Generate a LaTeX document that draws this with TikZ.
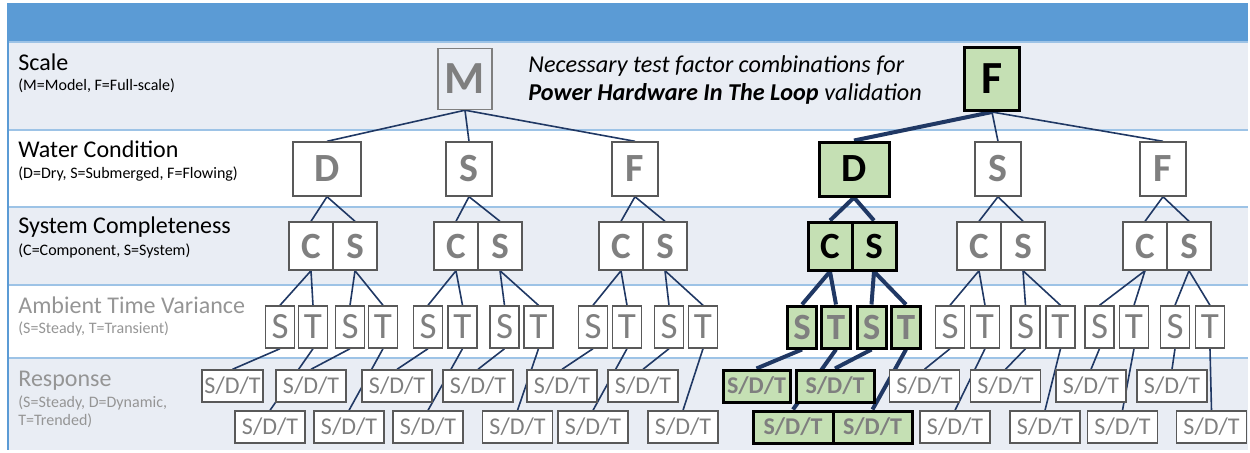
\documentclass[tikz,border=0pt]{standalone}
\usepackage{fontspec}
\setmainfont{Carlito}
\usepackage{tikz}

\definecolor{hdrblue}{HTML}{5B9BD5}
\definecolor{bandgray}{HTML}{E9EDF4}
\definecolor{sepblue}{HTML}{9DC3E6}
\definecolor{linkblue}{HTML}{203864}
\definecolor{selgreen}{HTML}{C5E0B4}
\definecolor{txtgray}{HTML}{7F7F7F}
\definecolor{lblgray}{HTML}{959595}
\definecolor{boxgray}{HTML}{595959}

\pgfdeclarelayer{bands}
\pgfdeclarelayer{links}
\pgfsetlayers{bands,links,main}

\begin{document}
\begin{tikzpicture}[x=0.5pt,y=-0.5pt,
  box/.style={draw=boxgray, fill=white, line width=0.7pt, inner sep=0pt, text=txtgray},
  scalebox/.style={box, minimum width=27pt, minimum height=30.5pt, font=\fontsize{23}{23}\selectfont\bfseries},
  waterbox/.style={box, minimum width=23pt, minimum height=27pt, font=\fontsize{20}{20}\selectfont\bfseries},
  halfbox/.style={box, minimum width=22pt, minimum height=24pt, font=\fontsize{18.5}{18.5}\selectfont\bfseries},
  ambbox/.style={box, minimum width=14.5pt, minimum height=21pt, font=\fontsize{18.5}{18.5}\selectfont},
  rspbox/.style={box, minimum width=35pt, minimum height=16pt, font=\fontsize{12}{12}\selectfont},
  chosen/.style={draw=black, fill=selgreen, line width=1.5pt, text=black},
  ambsel/.style={ambbox, chosen, text=txtgray, font=\fontsize{18.5}{18.5}\selectfont\bfseries},
  rspsel/.style={rspbox, chosen, text=txtgray, font=\fontsize{12}{12}\selectfont\bfseries},
  link/.style={draw=linkblue, line width=0.8pt},
  chosenlink/.style={draw=linkblue, line width=2pt},
  rowlabel/.style={anchor=base west, inner sep=0pt, font=\fontsize{12}{12}\selectfont},
  rownote/.style={anchor=base west, inner sep=0pt, font=\fontsize{8}{8}\selectfont},
  titletext/.style={anchor=base west, inner sep=0pt, font=\fontsize{12.1}{12.1}\selectfont\itshape}]
	\useasboundingbox (0,0) rectangle (1250,452);

	\begin{pgfonlayer}{bands}
	\fill[hdrblue] (8,3) rectangle (1248,42);
	\fill[bandgray] (8,42) rectangle (1248,130);
	\fill[bandgray] (8,207) rectangle (1248,285);
	\fill[bandgray] (8,358) rectangle (1248,450);
	\draw[sepblue, line width=1pt] (8,42) -- (1248,42) (8,130) -- (1248,130) (8,207) -- (1248,207) (8,285) -- (1248,285) (8,358) -- (1248,358);
	\draw[hdrblue, line width=1pt] (8,3) -- (8,450);
	\end{pgfonlayer}

	\node[rowlabel] (scale) at (18,70) {Scale};
	\node[rownote] (scalenote) at (18,90) {(M=Model, F=Full-scale)};
	\node[rowlabel] (water) at (18,157) {Water Condition};
	\node[rownote] (waternote) at (18,178) {(D=Dry, S=Submerged, F=Flowing)};
	\node[rowlabel] (system) at (18,233) {System Completeness};
	\node[rownote] (systemnote) at (18,255) {(C=Component, S=System)};
	\node[rowlabel, text=lblgray] (ambient) at (18,313) {Ambient Time Variance};
	\node[rownote, text=lblgray] (ambientnote) at (18,333) {(S=Steady, T=Transient)};
	\node[rowlabel, text=lblgray] (response) at (18,386) {Response};
	\node[rownote, text=lblgray] (responsenote) at (18,407) {(S=Steady, D=Dynamic,};
	\node[rownote, text=lblgray] (responsenote2) at (18,425) {T=Trended)};

	\node[titletext] (title1) at (528,72) {Necessary test factor combinations for};
	\node[titletext] (title2) at (528,100) {\textbf{Power Hardware In The Loop} validation};

	\node[scalebox, draw=txtgray, fill=none] (m) at (465,79) {M};
	\node[scalebox, chosen, minimum width=27.5pt, minimum height=31.5pt] (f) at (992,79) {F};

	\node[waterbox, minimum width=34pt] (md) at (327,169) {D};
	\node[waterbox] (ms) at (469,169) {S};
	\node[waterbox] (mf) at (635,169) {F};
	\node[waterbox, chosen, minimum width=35pt] (fd) at (854,169) {D};
	\node[waterbox] (fs) at (998,169) {S};
	\node[waterbox] (ff) at (1163,169) {F};

	\node[halfbox] (mdc) at (311,246) {C};
	\node[halfbox] (mds) at (355,246) {S};
	\node[halfbox] (msc) at (456,246) {C};
	\node[halfbox] (mss) at (500,246) {S};
	\node[halfbox] (mfc) at (621,246) {C};
	\node[halfbox] (mfs) at (665,246) {S};
	\node[halfbox, chosen] (fdc) at (830,246) {C};
	\node[halfbox, chosen] (fds) at (874,246) {S};
	\node[halfbox] (fsc) at (979,246) {C};
	\node[halfbox] (fss) at (1023,246) {S};
	\node[halfbox] (ffc) at (1145,246) {C};
	\node[halfbox] (ffs) at (1189,246) {S};

	\node[ambbox] (a1) at (280,327) {S};
	\node[ambbox] (a2) at (313,327) {T};
	\node[ambbox] (a3) at (350,327) {S};
	\node[ambbox] (a4) at (383,327) {T};
	\node[ambbox] (a5) at (428,327) {S};
	\node[ambbox] (a6) at (462.5,327) {T};
	\node[ambbox] (a7) at (504.5,327) {S};
	\node[ambbox] (a8) at (538.5,327) {T};
	\node[ambbox] (a9) at (593,327) {S};
	\node[ambbox] (a10) at (627,327) {T};
	\node[ambbox] (a11) at (669,327) {S};
	\node[ambbox] (a12) at (703,327) {T};
	\node[ambsel] (a13) at (802,327) {S};
	\node[ambsel] (a14) at (836,327) {T};
	\node[ambsel] (a15) at (871.5,327) {S};
	\node[ambsel] (a16) at (906,327) {T};
	\node[ambbox] (a17) at (950,327) {S};
	\node[ambbox] (a18) at (985,327) {T};
	\node[ambbox] (a19) at (1025.5,327) {S};
	\node[ambbox] (a20) at (1060.5,327) {T};
	\node[ambbox] (a21) at (1099.5,327) {S};
	\node[ambbox] (a22) at (1134,327) {T};
	\node[ambbox] (a23) at (1175,327) {S};
	\node[ambbox] (a24) at (1210,327) {T};

	\node[rspbox, minimum width=30.5pt] (r1) at (232.5,386) {S/D/T};
	\node[rspbox] (r2) at (270,427) {S/D/T};
	\node[rspbox] (r3) at (311,386) {S/D/T};
	\node[rspbox] (r4) at (349,427) {S/D/T};
	\node[rspbox] (r5) at (397,386) {S/D/T};
	\node[rspbox] (r6) at (428,427) {S/D/T};
	\node[rspbox] (r7) at (478,386) {S/D/T};
	\node[rspbox] (r8) at (517.5,427) {S/D/T};
	\node[rspbox] (r9) at (562,386) {S/D/T};
	\node[rspbox] (r10) at (593,427) {S/D/T};
	\node[rspbox] (r11) at (643,386) {S/D/T};
	\node[rspbox] (r12) at (683,427) {S/D/T};
	\node[rspsel, minimum width=33.5pt] (r13) at (756.5,386) {S/D/T};
	\node[rspsel, minimum width=40pt] (r14) at (793,427) {S/D/T};
	\node[rspsel, minimum width=39pt] (r15) at (835,386) {S/D/T};
	\node[rspsel, minimum width=39.5pt] (r16) at (872.5,427) {S/D/T};
	\node[rspbox] (r17) at (924.5,386) {S/D/T};
	\node[rspbox] (r18) at (955,427) {S/D/T};
	\node[rspbox] (r19) at (1005.5,386) {S/D/T};
	\node[rspbox] (r20) at (1045,427) {S/D/T};
	\node[rspbox] (r21) at (1091,386) {S/D/T};
	\node[rspbox] (r22) at (1122.5,427) {S/D/T};
	\node[rspbox] (r23) at (1172,386) {S/D/T};
	\node[rspbox] (r24) at (1211.5,427) {S/D/T};

	\begin{pgfonlayer}{links}
	\draw[link] (md.north) -- (m.south) -- (ms.north);
	\draw[link] (m.south) -- (mf.north);
	\draw[chosenlink] (f.south) -- (fd.north);
	\draw[link] (fs.north) -- (f.south) -- (ff.north);

	\draw[link] (mdc.north) -- (md.south) -- (mds.north);
	\draw[link] (msc.north) -- (ms.south) -- (mss.north);
	\draw[link] (mfc.north) -- (mf.south) -- (mfs.north);
	\draw[chosenlink] (fdc.north) -- (fd.south) -- (fds.north);
	\draw[link] (fsc.north) -- (fs.south) -- (fss.north);
	\draw[link] (ffc.north) -- (ff.south) -- (ffs.north);

	\draw[link] (a1.north) -- (mdc.south) -- (a2.north);
	\draw[link] (a3.north) -- (mds.south) -- (a4.north);
	\draw[link] (a5.north) -- (msc.south) -- (a6.north);
	\draw[link] (a7.north) -- (mss.south) -- (a8.north);
	\draw[link] (a9.north) -- (mfc.south) -- (a10.north);
	\draw[link] (a11.north) -- (mfs.south) -- (a12.north);
	\draw[chosenlink] (a13.north) -- (fdc.south) -- (a14.north);
	\draw[chosenlink] (a15.north) -- (fds.south) -- (a16.north);
	\draw[link] (a17.north) -- (fsc.south) -- (a18.north);
	\draw[link] (a19.north) -- (fss.south) -- (a20.north);
	\draw[link] (a21.north) -- (ffc.south) -- (a22.north);
	\draw[link] (a23.north) -- (ffs.south) -- (a24.north);

	\draw[link] (a1.south) -- (r1.north) (a2.south) -- (r2.north) (a3.south) -- (r3.north) (a4.south) -- (r4.north);
	\draw[link] (a5.south) -- (r5.north) (a6.south) -- (r6.north) (a7.south) -- (r7.north) (a8.south) -- (r8.north);
	\draw[link] (a9.south) -- (r9.north) (a10.south) -- (r10.north) (a11.south) -- (r11.north) (a12.south) -- (r12.north);
	\draw[chosenlink] (a13.south) -- (r13.north) (a14.south) -- (r14.north) (a15.south) -- (r15.north) (a16.south) -- (r16.north);
	\draw[link] (a17.south) -- (r17.north) (a18.south) -- (r18.north) (a19.south) -- (r19.north) (a20.south) -- (r20.north);
	\draw[link] (a21.south) -- (r21.north) (a22.south) -- (r22.north) (a23.south) -- (r23.north) (a24.south) -- (r24.north);
	\end{pgfonlayer}
\end{tikzpicture}
\end{document}
